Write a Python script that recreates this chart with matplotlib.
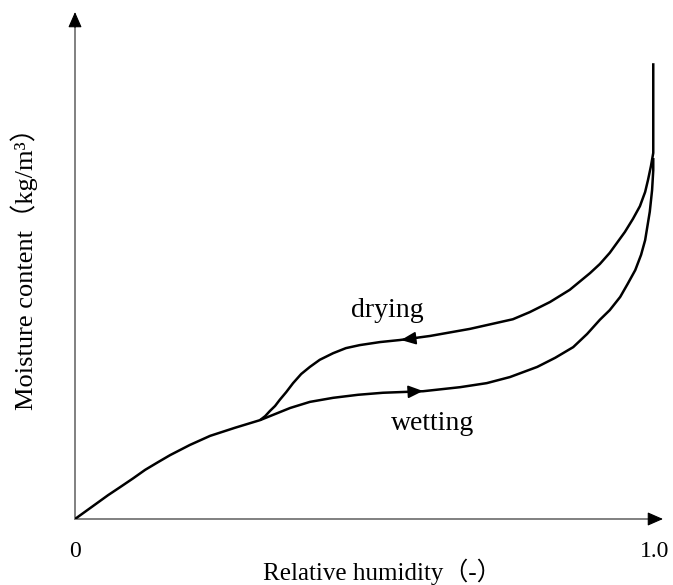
import matplotlib.pyplot as plt

plt.rcParams['font.family'] = ['Liberation Serif', 'Noto Sans CJK SC']

# Curves (relative humidity, moisture content in arbitrary units)
wet_rh = [0, .017, .034, .057, .078, .100, .121, .143, .164, .198, .233, .276, .319,
          .345, .371, .405, .445, .488, .531, .600, .664, .710, .750, .797, .828,
          .859, .883, .905, .922, .940, .953, .966, .976, .983, .991, .995, .997, .997]
wet_mc = [0, 1.4, 2.8, 4.7, 6.3, 8.0, 9.7, 11.2, 12.6, 14.6, 16.4, 18.0, 19.5,
          20.7, 21.9, 23.1, 23.9, 24.5, 24.9, 25.2, 26.0, 26.8, 28.0, 30.0, 31.8,
          33.9, 36.5, 39.3, 41.2, 43.8, 46.4, 49.1, 52.1, 55.0, 60.6, 64.9, 68.8, 71.2]

dry_rh = [.997, .997, .993, .988, .983, .974, .962, .948, .922, .905, .888, .853,
          .819, .784, .755, .681, .612, .560, .526, .491, .467, .445, .422, .405,
          .390, .376, .364, .353, .345, .336, .328, .319]
dry_mc = [89.9, 72.2, 69.6, 66.9, 64.5, 61.7, 59.2, 56.6, 52.5, 50.3, 48.5, 45.2,
          42.8, 40.8, 39.4, 37.5, 36.1, 35.3, 34.9, 34.3, 33.7, 32.7, 31.4, 30.0,
          28.6, 26.8, 25.0, 23.5, 22.3, 21.3, 20.3, 19.5]

xmax = 1.0138
ymax = 100

fig = plt.figure(figsize=(6.73, 5.85), dpi=100)
ax = fig.add_axes([75 / 673, 66 / 585, 588 / 673, 507 / 585])
ax.set_xlim(0, xmax)
ax.set_ylim(0, ymax)
for s in ax.spines.values():
    s.set_visible(False)

# axes drawn as gray lines with black arrow heads
ax.plot([0, xmax - 0.015], [0, 0], color='#808080', lw=1.4, clip_on=False)
ax.plot([0, 0], [0, ymax - 1.8], color='#808080', lw=1.4, clip_on=False)
head = dict(arrowstyle='-|>,head_length=0.8,head_width=0.35', color='k', lw=0.8,
            mutation_scale=12, shrinkA=0, shrinkB=0)
ax.annotate('', xy=(xmax, 0), xytext=(xmax - 0.02, 0), arrowprops=head,
            annotation_clip=False)
ax.annotate('', xy=(0, ymax), xytext=(0, ymax - 3), arrowprops=head,
            annotation_clip=False)

ax.plot(wet_rh, wet_mc, color='k', lw=1.8, solid_capstyle='butt', solid_joinstyle='round')
ax.plot(dry_rh, dry_mc, color='k', lw=1.8, solid_capstyle='butt', solid_joinstyle='round')

# direction arrows on the curves
small = dict(arrowstyle='-|>,head_length=0.7,head_width=0.3', color='k', lw=1.2,
             mutation_scale=13, shrinkA=0, shrinkB=0)
ax.annotate('', xy=(0.600, 25.25), xytext=(0.57, 25.05), arrowprops=small)
ax.annotate('', xy=(0.562, 35.3), xytext=(0.59, 35.7), arrowprops=small)

ax.text(0.538, 41.2, 'drying', fontsize=20, ha='center', va='center')
ax.text(0.616, 18.9, 'wetting', fontsize=20, ha='center', va='center')

ax.set_xticks([0, 1.0], ['0', '1.0'])
ax.set_yticks([])
ax.tick_params(axis='x', length=0, pad=16, labelsize=17)

ax.set_xlabel('Relative humidity（-）', fontsize=18)
ax.xaxis.set_label_coords((382 - 75) / 588, -(572 - 519) / 507)
ax.xaxis.label.set_va('center')
ax.set_ylabel('Moisture content（kg/m³）', fontsize=19)
ax.yaxis.set_label_coords((24 - 75) / 588, (519 - 263) / 507)
ax.yaxis.label.set_va('center')

fig.savefig('out.png', dpi=100)
